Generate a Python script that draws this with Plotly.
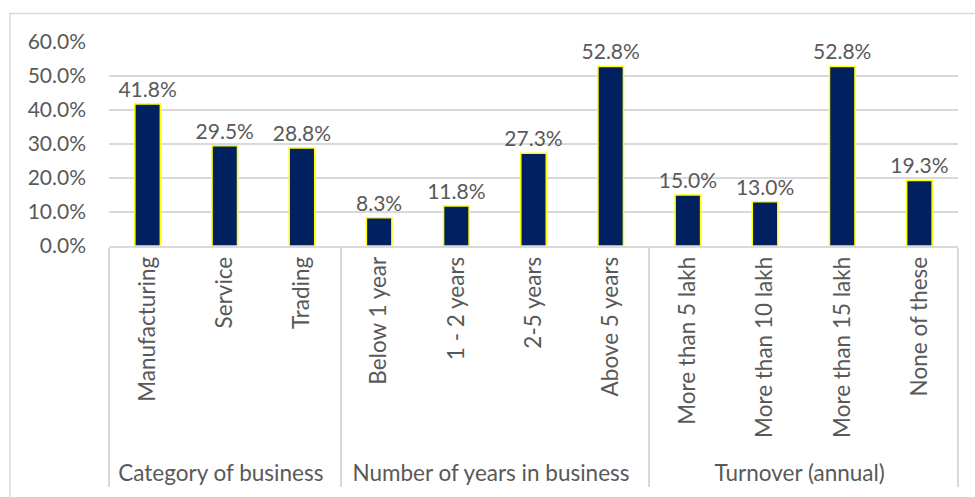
import plotly.graph_objects as go

groups = ["Category of business"] * 3 + ["Number of years in business"] * 4 + ["Turnover (annual)"] * 4
categories = ["Manufacturing", "Service", "Trading",
              "Below 1 year", "1 - 2 years", "2-5 years", "Above 5 years",
              "More than 5 lakh", "More than 10 lakh", "More than 15 lakh", "None of these"]
values = [0.418, 0.295, 0.288, 0.083, 0.118, 0.273, 0.528, 0.150, 0.130, 0.528, 0.193]
y_ticks = [0, 0.1, 0.2, 0.3, 0.4, 0.5, 0.6]

FONT = "Lato"
TXT = "#595959"
GRID = "#D9D9D9"

fig = go.Figure(go.Bar(
    x=[groups, categories],
    y=values,
    marker=dict(color="#002060", line=dict(color="#FFFF00", width=1.5)),
    text=[f"{v*100:.1f}%" for v in values],
    textposition="outside",
    constraintext="none",
    textfont=dict(family=FONT, size=21, color=TXT),
    cliponaxis=False,
))

fig.update_layout(
    width=975, height=497,
    margin=dict(l=109, r=17, t=42, b=248),
    paper_bgcolor="white", plot_bgcolor="white",
    font=dict(family=FONT, size=21, color=TXT),
    bargap=0.67,
    showlegend=False,
    uniformtext=dict(mode=False),
)
fig.update_yaxes(
    range=[0, 0.6], tickvals=y_ticks, tickformat=".1%",
    showgrid=True, gridcolor=GRID, gridwidth=1.5,
    zeroline=False, showline=False, ticks="",
    ticklabelstandoff=22,
    tickfont=dict(family=FONT, size=21, color=TXT),
)
fig.update_xaxes(
    type="multicategory",
    showline=True, linecolor=GRID, linewidth=1.5,
    showdividers=True, dividercolor=GRID, dividerwidth=1.5,
    tickangle=-90, ticks="",
    tickfont=dict(family=FONT, size=22.5, color=TXT),
)
# outer chart border
fig.add_shape(type="rect", xref="paper", yref="paper",
              x0=(10 - 109) / 849, x1=(985 - 109) / 849,
              y0=(249 - 510) / 207, y1=(249 - 13) / 207,
              line=dict(color=GRID, width=1.5), layer="below")

fig.write_html("out.html")
